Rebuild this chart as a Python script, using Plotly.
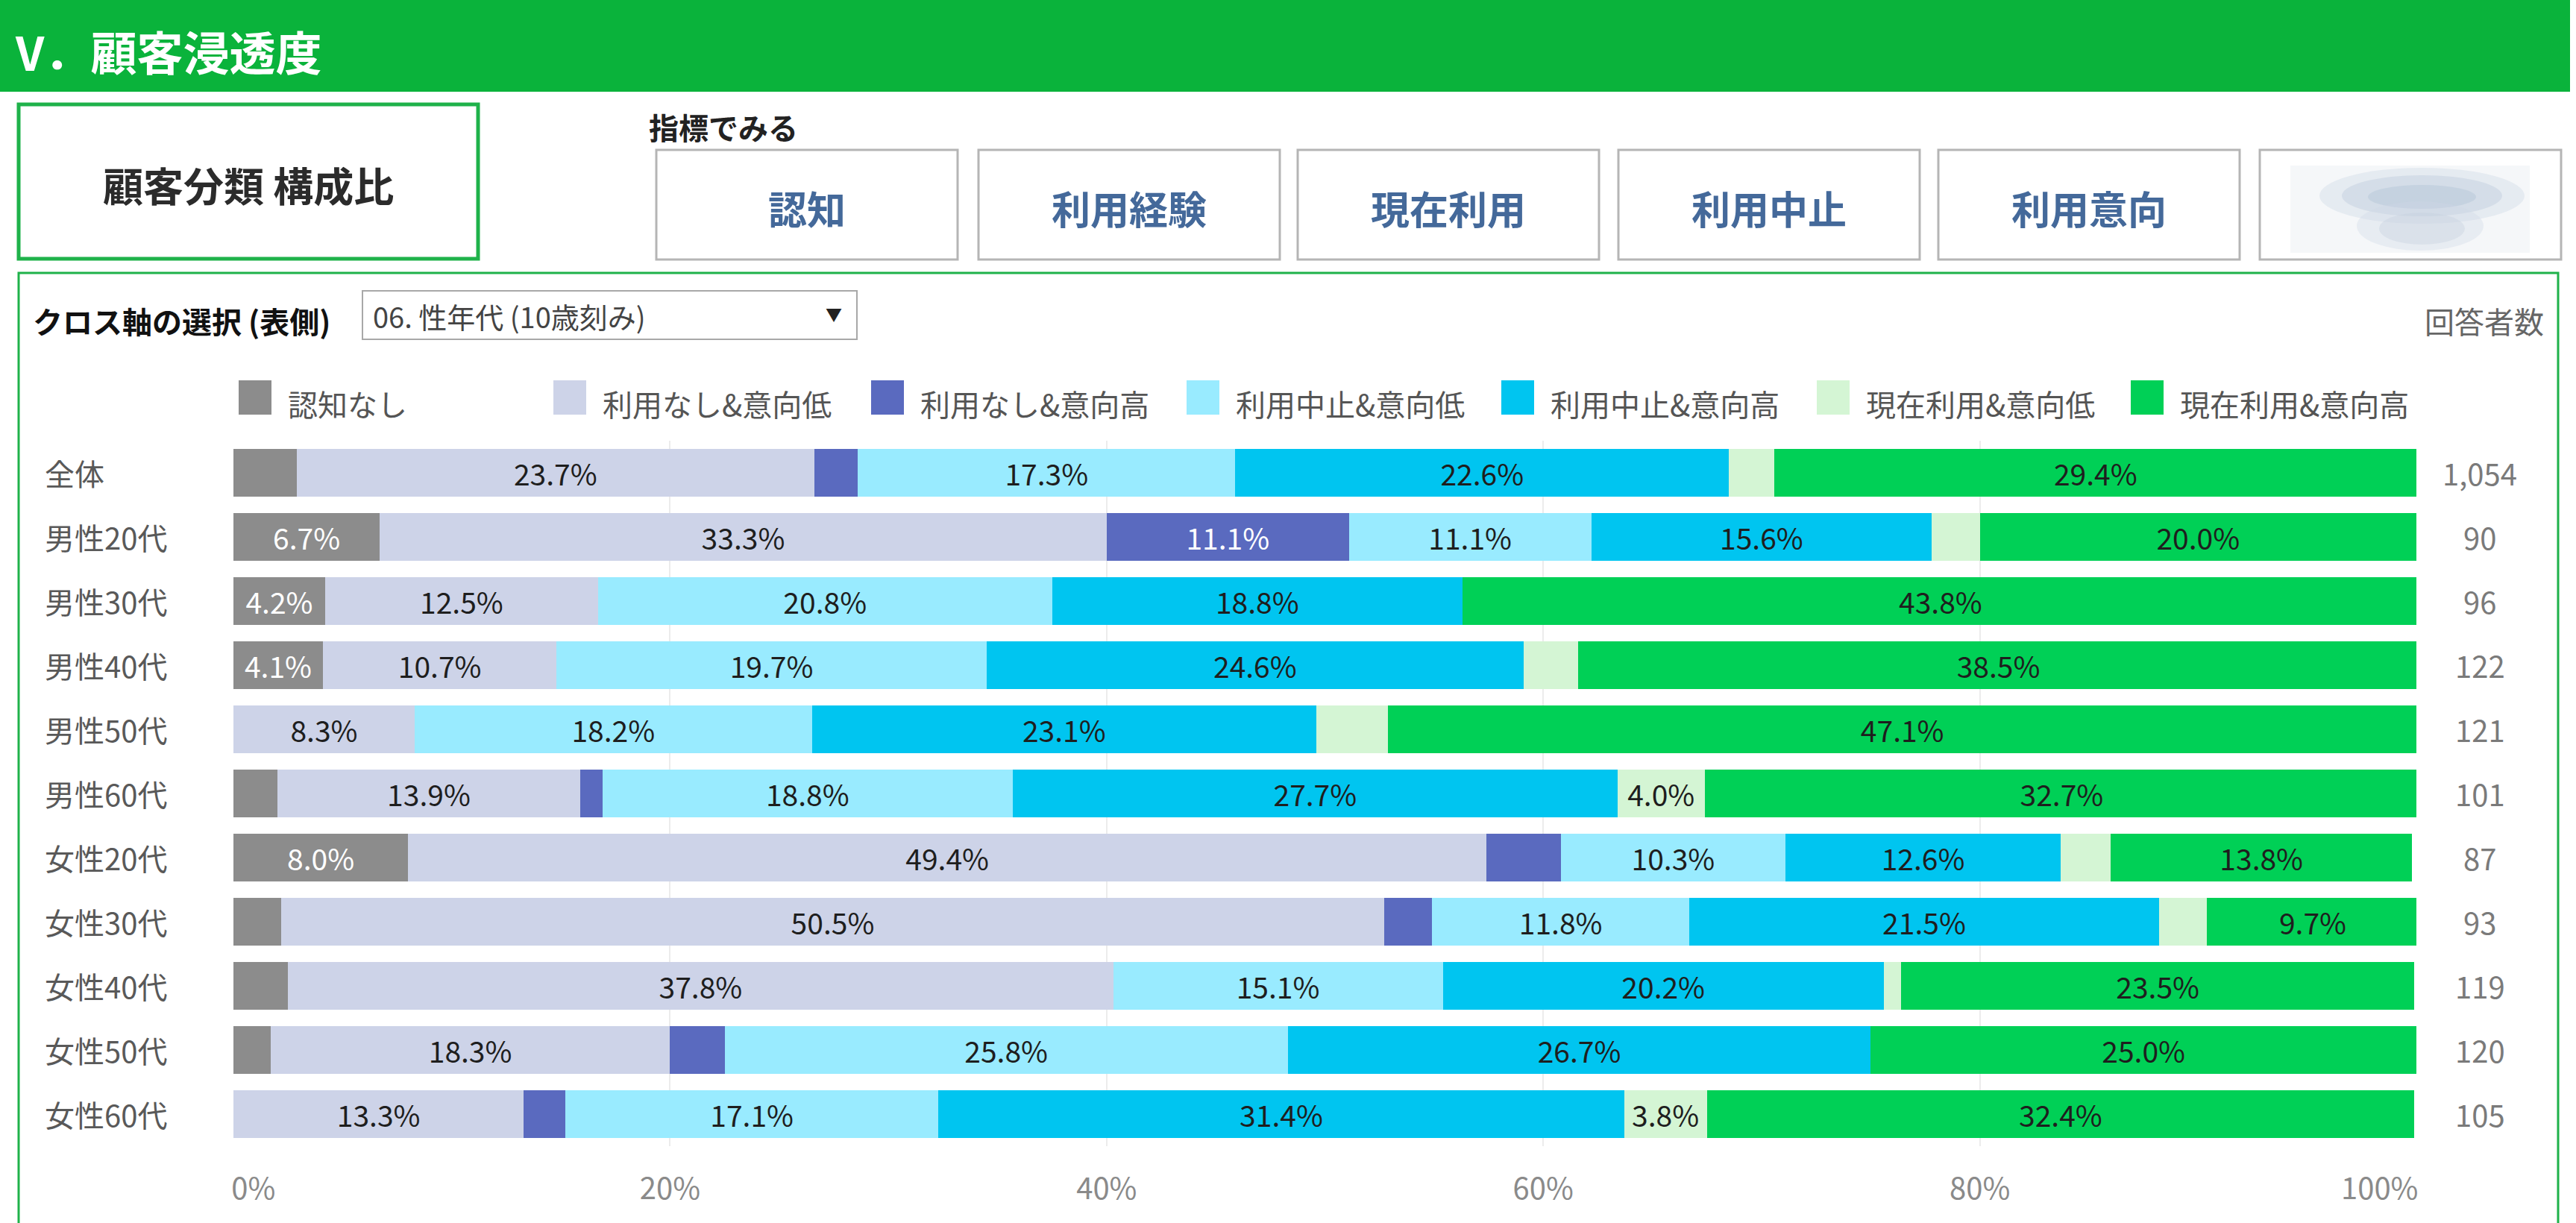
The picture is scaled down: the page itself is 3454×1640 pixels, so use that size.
import plotly.graph_objects as go

# #
# Data
categories = ['全体', '男性20代', '男性30代', '男性40代', '男性50代', '男性60代',
              '女性20代', '女性30代', '女性40代', '女性50代', '女性60代']
respondents = ['1,054', '90', '96', '122', '121', '101', '87', '93', '119', '120', '105']

series_names = ['認知なし', '利用なし&意向低', '利用なし&意向高', '利用中止&意向低',
                '利用中止&意向高', '現在利用&意向低', '現在利用&意向高']

no_awareness = [2.9, 6.7, 4.2, 4.1, 0.0, 2.0, 8.0, 2.2, 2.5, 1.7, 0.0]
unused_low = [23.7, 33.3, 12.5, 10.7, 8.3, 13.9, 49.4, 50.5, 37.8, 18.3, 13.3]
unused_high = [2.0, 11.1, 0.0, 0.0, 0.0, 1.0, 3.4, 2.2, 0.0, 2.5, 1.9]
stopped_low = [17.3, 11.1, 20.8, 19.7, 18.2, 18.8, 10.3, 11.8, 15.1, 25.8, 17.1]
stopped_high = [22.6, 15.6, 18.8, 24.6, 23.1, 27.7, 12.6, 21.5, 20.2, 26.7, 31.4]
current_low = [2.1, 2.2, 0.0, 2.5, 3.3, 4.0, 2.3, 2.2, 0.8, 0.0, 3.8]
current_high = [29.4, 20.0, 43.8, 38.5, 47.1, 32.7, 13.8, 9.7, 23.5, 25.0, 32.4]

series_values = [no_awareness, unused_low, unused_high, stopped_low,
                 stopped_high, current_low, current_high]

tick_vals = [0, 20, 40, 60, 80, 100]
tick_text = ['0%', '20%', '40%', '60%', '80%', '100%']

menu_buttons = ['認知', '利用経験', '現在利用', '利用中止', '利用意向']

# #
# Styles
W, H = 3454, 1640
FONT = 'Noto Sans CJK JP'
colors = ['#8c8c8c', '#cdd3e8', '#5a6abf', '#99ebff', '#00c5f0', '#d4f5d4', '#00d056']
text_colors = ['white', '#1e1e1e', 'white', '#1e1e1e', '#1e1e1e', '#1e1e1e', '#1e1e1e']
MIN_LABEL = 3.5


def px(x):
    return x / W


def py(y):
    return 1 - y / H


def rect(x0, y0, x1, y1, line=None, width=0, fill=None, **kw):
    d = dict(type='rect', xref='paper', yref='paper',
             x0=px(x0), x1=px(x1), y0=py(y1), y1=py(y0),
             line=dict(color=line or 'rgba(0,0,0,0)', width=width),
             fillcolor=fill or 'rgba(0,0,0,0)', layer='below')
    d.update(kw)
    return d


def blob(x0, y0, x1, y1, fill):
    return dict(type='circle', xref='paper', yref='paper', x0=px(x0), x1=px(x1),
                y0=py(y1), y1=py(y0), fillcolor=fill, line=dict(width=0), layer='below')


def label(x, y, text, size, color='#333', anchor='left', bold=False):
    return dict(xref='paper', yref='paper', x=px(x), y=py(y),
                text=f'<b>{text}</b>' if bold else text, showarrow=False,
                xanchor=anchor, yanchor='middle',
                font=dict(family=FONT, size=size, color=color))


# #
# Bars
fig = go.Figure()
for name, vals, col, tcol in zip(series_names, series_values, colors, text_colors):
    fig.add_trace(go.Bar(
        y=categories, x=vals, name=name, orientation='h',
        marker=dict(color=col, line=dict(width=0)),
        text=[f'{v:.1f}%' if v >= MIN_LABEL else '' for v in vals],
        textposition='inside', insidetextanchor='middle', textangle=0,
        textfont=dict(family=FONT, size=39, color=tcol),
        hoverinfo='skip', showlegend=False,
    ))

shapes = []
annotations = []

# header band
shapes.append(rect(0, 0, 3446, 123, fill='#0ab33b'))
annotations.append(label(18, 68, 'V．顧客浸透度', 62, color='white', bold=True))

# selected tab
shapes.append(rect(25, 140, 641, 347, line='#1fb24a', width=5, fill='white'))
annotations.append(label(333, 247, '顧客分類 構成比', 54, color='#2b2b2b', anchor='center', bold=True))

# indicator buttons
annotations.append(label(868, 170, '指標でみる', 40, color='#222', bold=True))
btn_left = [880, 1312, 1740, 2170, 2599, 3030]
btn_w = 404
for i, x0 in enumerate(btn_left):
    shapes.append(rect(x0, 201, x0 + btn_w, 348, line='#b5b5b5', width=3, fill='white'))
    if i < len(menu_buttons):
        annotations.append(label(x0 + btn_w / 2, 278, menu_buttons[i], 52,
                                 color='#44699a', anchor='center', bold=True))
# blurred last button
shapes.append(rect(3071, 222, 3392, 339, fill='#f5f7f9'))
shapes.append(blob(3110, 225, 3385, 300, 'rgba(200,212,226,0.35)'))
shapes.append(blob(3140, 235, 3355, 290, 'rgba(180,196,216,0.35)'))
shapes.append(blob(3175, 248, 3320, 280, 'rgba(170,188,210,0.35)'))
shapes.append(blob(3160, 270, 3330, 336, 'rgba(205,215,228,0.35)'))
shapes.append(blob(3190, 285, 3305, 328, 'rgba(195,207,222,0.35)'))

# chart panel
shapes.append(rect(25, 366, 3430, 1660, line='#1fb24a', width=3, fill='white'))
annotations.append(label(42, 430, 'クロス軸の選択 (表側)', 40, color='#111', bold=True))
shapes.append(rect(486, 390, 1149, 455, line='#a8a8a8', width=2, fill='white'))
annotations.append(label(498, 423, '06. 性年代 (10歳刻み)', 38, color='#444'))
annotations.append(label(1118, 420, '▼', 22, color='#222', anchor='center'))
annotations.append(label(3413, 430, '回答者数', 40, color='#666', anchor='right'))

# legend
leg_x = [320, 742, 1168, 1591, 2013, 2436, 2857]
for x0, name, col in zip(leg_x, series_names, colors):
    shapes.append(rect(x0, 510, x0 + 44, 556, fill=col, layer='above'))
    annotations.append(label(x0 + 64, 541, name, 40, color='#555'))

# category labels and respondent counts
for cat, n in zip(categories, respondents):
    annotations.append(dict(xref='paper', yref='y', x=px(58), y=cat, text=cat,
                            showarrow=False, xanchor='left', yanchor='middle',
                            font=dict(family=FONT, size=40, color='#595959')))
    annotations.append(dict(xref='paper', yref='y', x=px(3325), y=cat, text=n,
                            showarrow=False, xanchor='center', yanchor='middle',
                            font=dict(family=FONT, size=40, color='#7a7a7a')))

tick_text_pad = (['\u00a0' * 6 + tick_text[0]] + tick_text[1:-1]
                 + [tick_text[-1] + '\u00a0' * 11])

fig.update_layout(
    width=W, height=H, autosize=False,
    margin=dict(l=0, r=0, t=0, b=0, pad=0),
    paper_bgcolor='white', plot_bgcolor='white',
    barmode='stack', bargap=0.255,
    shapes=shapes, annotations=annotations,
    xaxis=dict(domain=[px(313), px(3240)], range=[0, 100], automargin=False,
               tickvals=tick_vals, ticktext=tick_text_pad,
               tickfont=dict(family=FONT, size=40, color='#8a8a8a'),
               showgrid=True, gridcolor='#ececec', gridwidth=2,
               zeroline=False, showline=False, ticks='', ticklabelstandoff=30,
               fixedrange=True),
    yaxis=dict(domain=[py(1537), py(591)], autorange='reversed', automargin=False,
               showticklabels=False, showgrid=False, zeroline=False,
               showline=False, fixedrange=True),
    font=dict(family=FONT),
)

fig.write_html('out.html', config={'displayModeBar': False},
               post_script="document.body.style.margin='0';")
